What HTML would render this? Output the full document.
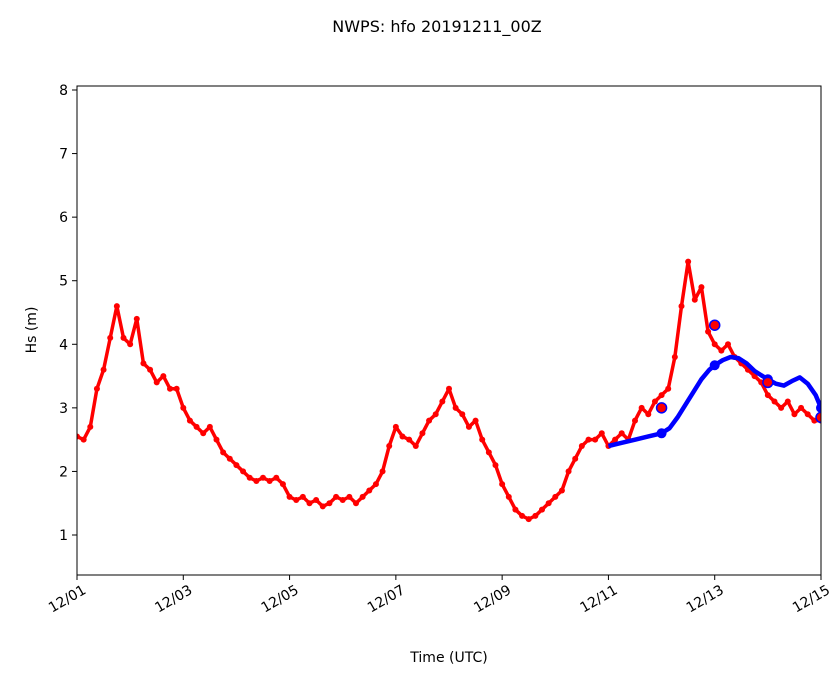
<!DOCTYPE html>
<html><head><meta charset="utf-8"><style>
body{margin:0;background:#fff;font-family:"Liberation Sans","DejaVu Sans",sans-serif}
</style></head><body>
<svg id="c" width="839" height="681" font-family="DejaVu Sans, Liberation Sans, sans-serif">
<text x="437" y="32" text-anchor="middle" font-size="16">NWPS: hfo 20191211_00Z</text>
<text x="449" y="662" text-anchor="middle" font-size="14">Time (UTC)</text>
<text transform="translate(36,330) rotate(-90)" text-anchor="middle" font-size="14">Hs (m)</text>
<g id="plot"></g>
<rect x="77" y="86" width="744" height="489" fill="none" stroke="#000" stroke-width="1"/>
</svg>
<script>
const yTicks=[1,2,3,4,5,6,7,8];
const xTickLabels=["12/01","12/03","12/05","12/07","12/09","12/11","12/13","12/15"];
const xTickDays=[0,2,4,6,8,10,12,14];
const obsValues=[2.55,2.5,2.7,3.3,3.6,4.1,4.6,4.1,
4.0,4.4,3.7,3.6,3.4,3.5,3.3,3.3,
3.0,2.8,2.7,2.6,2.7,2.5,2.3,2.2,
2.1,2.0,1.9,1.85,1.9,1.85,1.9,1.8,
1.6,1.55,1.6,1.5,1.55,1.45,1.5,1.6,
1.55,1.6,1.5,1.6,1.7,1.8,2.0,2.4,
2.7,2.55,2.5,2.4,2.6,2.8,2.9,3.1,
3.3,3.0,2.9,2.7,2.8,2.5,2.3,2.1,
1.8,1.6,1.4,1.3,1.25,1.3,1.4,1.5,
1.6,1.7,2.0,2.2,2.4,2.5,2.5,2.6,
2.4,2.5,2.6,2.5,2.8,3.0,2.9,3.1,
3.2,3.3,3.8,4.6,5.3,4.7,4.9,4.2,
4.0,3.9,4.0,3.8,3.7,3.6,3.5,3.4,
3.2,3.1,3.0,3.1,2.9,3.0,2.9,2.8,2.8];
const modelDays=[10,10.25,10.5,10.75,11,11.15,11.3,11.45,11.6,11.75,11.9,12,12.15,12.3,12.45,12.6,12.75,12.9,13,13.15,13.3,13.45,13.6,13.75,13.9,14];
const modelValues=[2.4,2.45,2.5,2.55,2.6,2.68,2.85,3.05,3.25,3.45,3.6,3.67,3.75,3.8,3.78,3.7,3.58,3.5,3.45,3.38,3.35,3.42,3.48,3.38,3.2,3.0];
const bigDays=[11,12,13,14];
const bigValues=[2.6,3.67,3.45,3.0];
const hollowValues=[3.0,4.3,3.4,2.85];
const hollowDays=[11,12,13,14];

const X=d=>77+d*744/14;
const Y=v=>535-(v-1)*445/7;
const NS="http://www.w3.org/2000/svg";
const svg=document.getElementById('c');
const g=document.getElementById('plot');
function mk(t,a,p){const e=document.createElementNS(NS,t);for(const k in a)e.setAttribute(k,a[k]);(p||g).appendChild(e);return e;}
yTicks.forEach(v=>{
 const l=mk('line',{x1:72,x2:77,y1:Y(v),y2:Y(v),stroke:'#000'},svg);
 
 
 const t=mk('text',{x:68,y:Y(v)+5,'text-anchor':'end','font-size':14},svg);t.textContent=v;
 
 
});
xTickDays.forEach((d,i)=>{
 const l=mk('line',{x1:X(d),x2:X(d),y1:575,y2:580,stroke:'#000'},svg);
 
 
 const t=mk('text',{transform:`translate(${X(d)+5},${584}) rotate(-30)`,'text-anchor':'end','font-size':14,y:10},svg);t.textContent=xTickLabels[i];
 
 
});
const cp=mk('clipPath',{id:'cl'},svg);mk('rect',{x:77,y:86,width:744,height:489},cp);
g.setAttribute('clip-path','url(#cl)');
const step=14/(obsValues.length-1);
const op=mk('polyline',{points:obsValues.map((v,i)=>X(i*step)+','+Y(v)).join(' '),fill:'none',stroke:'#f00','stroke-width':3.5,'stroke-linejoin':'round'});


obsValues.forEach((v,i)=>{const c=mk('circle',{cx:X(i*step),cy:Y(v),r:3,fill:'#f00'});
 
 });
const mp=mk('polyline',{points:modelDays.map((d,i)=>X(d)+','+Y(modelValues[i])).join(' '),fill:'none',stroke:'#00f','stroke-width':4.5,'stroke-linejoin':'round'});


bigDays.forEach((d,i)=>{const c=mk('circle',{cx:X(d),cy:Y(bigValues[i]),r:5,fill:'#00f'});
 
 });
hollowDays.forEach((d,i)=>{const c=mk('circle',{cx:X(d),cy:Y(hollowValues[i]),r:5,fill:'#f00',stroke:'#00f','stroke-width':1.5});
 
 });
</script>
</body></html>
